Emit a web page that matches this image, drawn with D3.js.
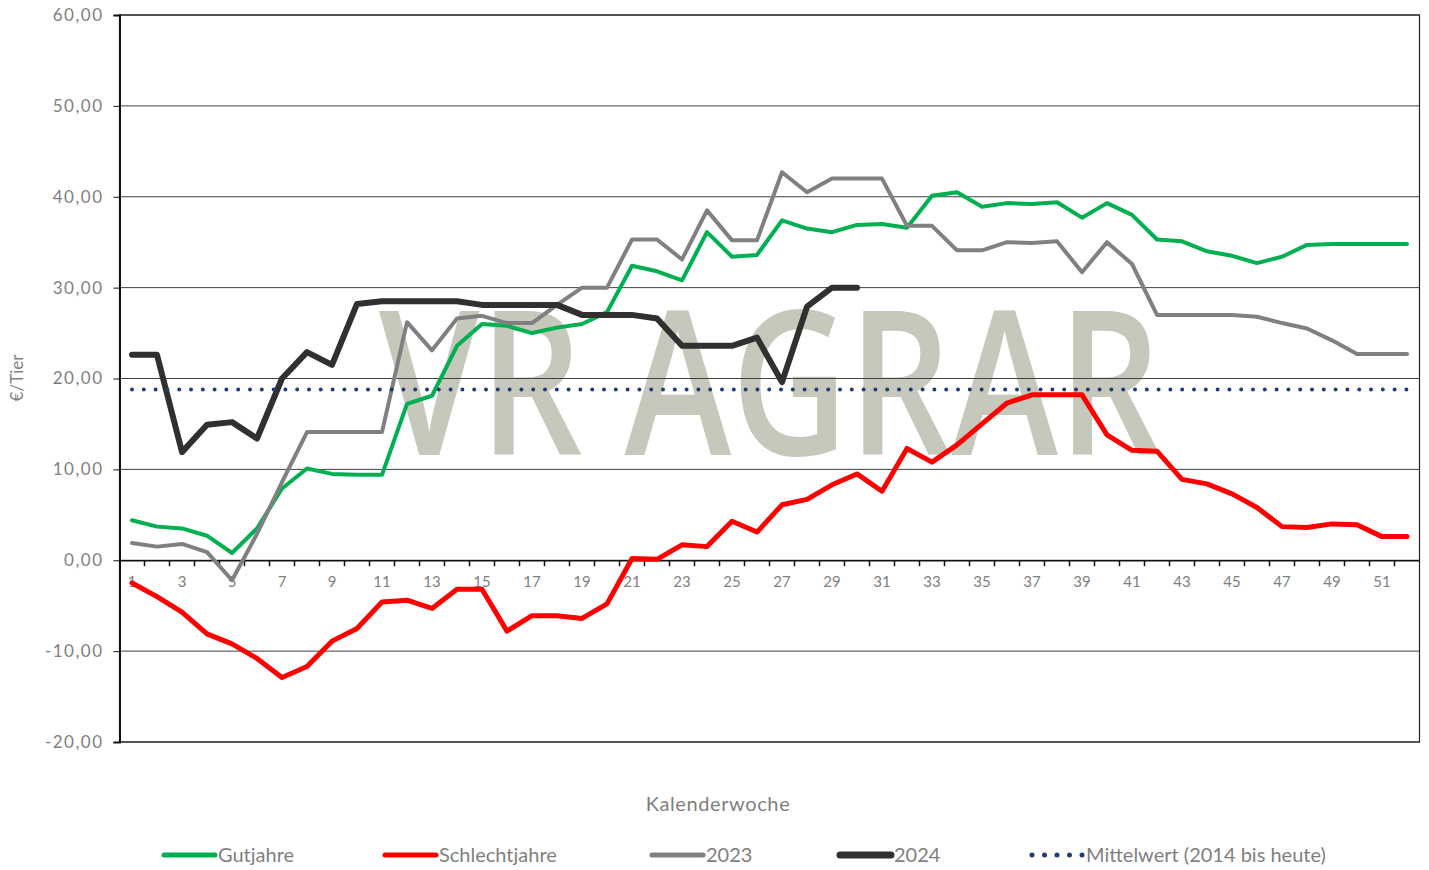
<!DOCTYPE html>
<html>
<head>
<meta charset="utf-8">
<script src="https://cdn.jsdelivr.net/npm/d3@7"></script>
<style>
  body { margin: 0; background: #fff; }
  svg text { font-family: Lato, "Open Sans", sans-serif; }
</style>
</head>
<body>
<div id="chart"></div>
<script>
// Kalenderwochen 1..52
const weeks = d3.range(1, 53);

const gutjahre = [4.4, 3.7, 3.5, 2.7, 0.8, 3.5, 7.9, 10.1, 9.5, 9.4,
  9.4, 17.2, 18.1, 23.6, 26.0, 25.8, 25.0, 25.6, 26.0, 27.3,
  32.4, 31.8, 30.8, 36.1, 33.4, 33.6, 37.4, 36.5, 36.1, 36.9,
  37.0, 36.6, 40.1, 40.5, 38.9, 39.3, 39.2, 39.4, 37.7, 39.3,
  38.0, 35.3, 35.1, 34.0, 33.5, 32.7, 33.4, 34.7, 34.8, 34.8, 34.8, 34.8];

const schlechtjahre = [-2.5, -4.0, -5.7, -8.1, -9.2, -10.8, -12.9, -11.7, -8.9, -7.5,
  -4.6, -4.4, -5.3, -3.2, -3.2, -7.8, -6.1, -6.1, -6.4, -4.8,
  0.2, 0.1, 1.7, 1.5, 4.3, 3.1, 6.1, 6.7, 8.3, 9.5,
  7.6, 12.3, 10.8, 12.7, 15.0, 17.3, 18.2, 18.2, 18.2, 13.8,
  12.1, 12.0, 8.9, 8.4, 7.3, 5.8, 3.7, 3.6, 4.0, 3.9, 2.6, 2.6];

const y2023 = [1.9, 1.5, 1.8, 0.9, -2.2, 2.9, 8.6, 14.1, 14.1, 14.1,
  14.1, 26.2, 23.1, 26.6, 26.9, 26.1, 26.1, 28.1, 30.0, 30.0,
  35.3, 35.3, 33.1, 38.5, 35.2, 35.2, 42.7, 40.5, 42.0, 42.0,
  42.0, 36.8, 36.8, 34.1, 34.1, 35.0, 34.9, 35.1, 31.7, 35.0,
  32.6, 27.0, 27.0, 27.0, 27.0, 26.8, 26.1, 25.5, 24.2, 22.7, 22.7, 22.7];

const y2024 = [22.6, 22.6, 11.9, 14.9, 15.2, 13.4, 20.0, 22.9, 21.5, 28.2,
  28.5, 28.5, 28.5, 28.5, 28.1, 28.1, 28.1, 28.1, 27.0, 27.0,
  27.0, 26.6, 23.6, 23.6, 23.6, 24.5, 19.6, 27.9, 30.0, 30.0];

const mittelwert = 18.8;

const yTicks = [-20, -10, 0, 10, 20, 30, 40, 50, 60];

const series = [
  { name: "Gutjahre", values: gutjahre, color: "#00b050", width: 4 },
  { name: "Schlechtjahre", values: schlechtjahre, color: "#ff0000", width: 5 },
  { name: "2023", values: y2023, color: "#808080", width: 4 },
  { name: "2024", values: y2024, color: "#2f302f", width: 6 }
];

const W = 1429, H = 870;
const plot = { left: 119.5, right: 1419.5, top: 15, bottom: 742 };

const svg = d3.select("#chart").append("svg")
  .attr("width", W).attr("height", H);

const x = d3.scaleBand().domain(weeks).range([plot.left, plot.right]);
const y = d3.scaleLinear().domain([-20, 60]).range([plot.bottom, plot.top]);
const cx = w => x(w) + x.bandwidth() / 2;

// watermark
svg.append("text")
  .attr("x", 770).attr("y", 455)
  .attr("text-anchor", "middle")
  .attr("textLength", 782)
  .attr("lengthAdjust", "spacingAndGlyphs")
  .style("font-size", "202px")
  .style("font-weight", 600)
  .style("font-family", "'Open Sans', Lato, sans-serif")
  .style("fill", "#c6c8bb")
  .text("VR AGRAR");

// gridlines
svg.append("g").selectAll("line")
  .data(yTicks)
  .enter().append("line")
  .attr("x1", plot.left).attr("x2", plot.right)
  .attr("y1", d => y(d)).attr("y2", d => y(d))
  .attr("stroke", "#404040").attr("stroke-width", 1);

// frame
svg.append("rect")
  .attr("x", plot.left).attr("y", plot.top)
  .attr("width", plot.right - plot.left).attr("height", plot.bottom - plot.top)
  .attr("fill", "none").attr("stroke", "#222").attr("stroke-width", 1.2);

// y axis
const yAxis = svg.append("g")
  .attr("transform", `translate(${plot.left},0)`)
  .call(d3.axisLeft(y).tickValues(yTicks).tickSize(6)
    .tickFormat(d => d3.format(".2f")(d).replace(".", ",").replace("\u2212", "-")));
yAxis.select(".domain").attr("stroke", "#111").attr("stroke-width", 2);
yAxis.selectAll(".tick line").attr("stroke", "#111");
yAxis.selectAll("text")
  .attr("x", -16)
  .style("font-size", "17px").style("letter-spacing", "1.5px")
  .style("fill", "#7f7f7f");

// x axis at zero
const xAxis = svg.append("g")
  .attr("transform", `translate(0,${y(0)})`)
  .call(d3.axisBottom(x).tickSize(0).tickFormat(d => d % 2 === 1 ? d : ""));
xAxis.select(".domain").attr("stroke", "#111").attr("stroke-width", 1.5);
xAxis.selectAll("text")
  .attr("y", 16)
  .style("font-size", "15px").style("fill", "#7f7f7f");
xAxis.selectAll(".bound").data(weeks.slice(1))
  .enter().append("line")
  .attr("x1", d => x(d)).attr("x2", d => x(d))
  .attr("y1", 0).attr("y2", 6)
  .attr("stroke", "#111").attr("stroke-width", 1.5);

// axis titles
svg.append("text")
  .attr("transform", "translate(23,378) rotate(-90)")
  .attr("text-anchor", "middle")
  .style("font-size", "17px").style("fill", "#7f7f7f")
  .text("€/Tier");

svg.append("text")
  .attr("x", 718).attr("y", 811)
  .attr("text-anchor", "middle")
  .style("font-size", "20px").style("letter-spacing", "0.6px")
  .style("fill", "#7f7f7f")
  .text("Kalenderwoche");

// series
const line = d3.line()
  .x((d, i) => cx(weeks[i]))
  .y(d => y(d));

series.forEach(s => {
  svg.append("path")
    .datum(s.values)
    .attr("d", line)
    .attr("fill", "none")
    .attr("stroke", s.color)
    .attr("stroke-width", s.width)
    .attr("stroke-linejoin", "round")
    .attr("stroke-linecap", "round");
});

// Mittelwert dotted
svg.append("line")
  .attr("x1", cx(weeks[0])).attr("x2", cx(weeks[weeks.length - 1]))
  .attr("y1", y(mittelwert)).attr("y2", y(mittelwert))
  .attr("stroke", "#1f3d73").attr("stroke-width", 4)
  .attr("stroke-linecap", "round")
  .attr("stroke-dasharray", "0 11.8");

// legend
const legend = [
  { name: "Gutjahre", color: "#00b050", width: 5, x: 164 },
  { name: "Schlechtjahre", color: "#ff0000", width: 5, x: 385 },
  { name: "2023", color: "#808080", width: 5, x: 652 },
  { name: "2024", color: "#2f302f", width: 7, x: 840 },
  { name: "Mittelwert (2014 bis heute)", color: "#1f3d73", width: 5, x: 1032, dotted: true }
];
const lg = svg.append("g").attr("transform", "translate(0,855)");
lg.selectAll("line").data(legend).enter().append("line")
  .attr("x1", d => d.x).attr("x2", d => d.x + 51)
  .attr("y1", 0).attr("y2", 0)
  .attr("stroke", d => d.color)
  .attr("stroke-width", d => d.width)
  .attr("stroke-linecap", "round")
  .attr("stroke-dasharray", d => d.dotted ? "0 12.5" : null);
lg.selectAll("text").data(legend).enter().append("text")
  .attr("x", d => d.x + 54).attr("y", 7)
  .style("font-size", "20px").style("fill", "#7f7f7f")
  .text(d => d.name);
</script>
</body>
</html>
